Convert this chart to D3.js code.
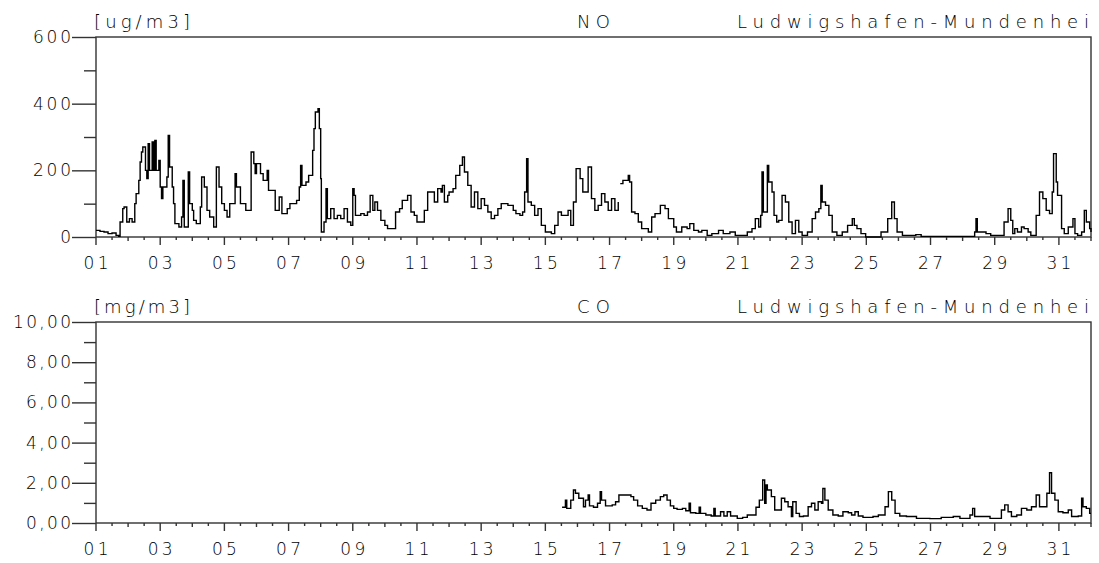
<!DOCTYPE html>
<html>
<head>
  <meta charset="utf-8">
  <title>NO / CO Ludwigshafen-Mundenheim</title>
  <script type="text/javascript" src="https://cdn.jsdelivr.net/npm/d3@7/dist/d3.min.js"></script>
  <style>
    body {
      margin: 0;
      background: #fff;
    }
    text {
      font-family: "DejaVu Sans", sans-serif;
      font-weight: 200;
      fill: #000;
    }
  </style>
</head>
<body>
  <svg id="chart"></svg>
  <script>
    // data: [hour since start of month, value]
    var noReadings = [
      [0,20],[3,17],[6,15],[9,10],[12,12],[15,5],[17,2],[18,45],[20,85],[21,90],[23,45],
      [25,55],[27,45],[29,100],[30,130],[32,170],[33,225],[34,255],[35,270],[37,200],[38,175],
      [39,280],[40,200],[42,285],[43,200],[44,290],[45,200],[47,230],[48,150],[49,115],
      [50,150],[53,180],[54,305],[55,210],[57,150],[58,100],[59,40],[62,30],[64,60],[65,170],
      [66,30],[68,30],[69,195],[70,100],[72,80],
      [73,50],[75,40],[78,90],[79,180],[81,150],[83,80],[85,60],[88,30],[90,210],[92,150],
      [94,100],[96,80],
      [98,60],[100,100],[104,190],[105,150],[108,100],[112,80],[114,80],[116,255],[118,220],
      [119,190],[120,220],
      [123,190],[125,170],[128,200],[129,140],[132,140],[134,80],[137,120],[139,70],[143,85],
      [145,100],[150,110],[152,150],[153,215],[154,155],[157,165],[159,185],[162,260],[163,325],
      [164,375],[166,385],[167,325],[168,175],
      [168.5,15],[170.5,45],[172,145],[173,55],[175.5,85],[178,55],[180.5,65],[183,55],
      [185.5,85],[188,45],[190.5,35],[192,145],
      [193,125],[194,65],[198,70],[200.5,65],[203,75],[205,125],[207,80],[208.5,105],
      [210.5,80],[213,50],[216,35],
      [218,25],[222,25],[224,75],[227,85],[229,110],[233,125],[235.5,75],[238,65],[240,45],
      [243,45],[245.5,80],[248,135],[250.5,135],[253,105],[255.5,145],[258,135],[259,155],
      [260.5,105],[263,125],[264,135],
      [267,145],[269,185],[272,215],[274,240],[275.5,195],[278,155],[280.5,90],[283,135],
      [285.5,85],[288,115],
      [290.5,95],[293,75],[295.5,55],[298,65],[300.5,85],[303,100],[308,95],[312,80],
      [314,70],[317,65],[319,75],[320.5,135],[322,235],[323,105],[325.5,95],[328,65],
      [330.5,85],[333,35],[336,15],
      [338,15],[340.5,10],[343,35],[345.5,75],[348,65],[350.5,65],[353,80],[355,35],[357,105],
      [359,205],
      [362,175],[364,135],[368,210],[370.5,115],[373,80],[375.5,95],[378,130],[380.5,105],
      [383,80],[385.5,115],[388,80],[390.5,105],[391,null],
      [392,160],[394,170],[398,185],[399,165],[400.5,75],[403,70],[405.5,45],[408,25],
      [410.5,25],[413,15],[415.5,60],[418,70],[422,95],[425.5,85],[428,55],[432,30],[434,15],
      [438,30],[442,25],[444,40],[447,20],[450.5,15],[453,20],[457,5],[460.5,10],[465.5,20],
      [469,10],[474,15],[478,5],[482,5],[487,15],[490.5,25],[493,55],[495.5,30],[497,65],
      [498,195],[499,75],[502,215],[503,165],[505.5,135],[507,65],[509,45],[510.5,50],
      [513,125],[515.5,105],[518,45],[520.5,10],[523,50],[525.5,15],[528,5],[532,15],
      [535.5,55],[538,75],[540.5,85],[542,155],[543,105],[545.5,95],[548,65],[550.5,15],
      [554,5],[558,15],[562,35],[565.5,55],[567,35],[569,25],[572,10],[575.5,0],[584,0],
      [587,15],[589,15],[592,55],[595,105],[597,55],[599,15],[603,5],[613,7],[617,2],
      [655.5,2],[657,15],[658,55],[659,15],[665.5,10],[669,5],[678,5],[679,45],[682,85],
      [684,50],[685.5,10],[687,25],[689,15],[692,30],[694,25],[697,15],[699,5],[703,65],
      [705.5,135],[708,115],[710.5,80],[713,70],[715,135],[716,250],[718,165],[719,125],
      [722,25],[724,10],[727,30],[730.5,55],[732,10],[734,5],[737,15],[739,80],[740.5,45],
      [743,25],[744,15]
    ];

    var coReadings = [
      [348.5,0.78],[351,1.14],[352,0.73],[355,1.14],[357,1.64],[358.5,1.48],[361,1.23],
      [364.5,0.81],[366,1.14],[368,1.39],[369,0.85],[372,0.78],[375,0.98],[377,1.56],
      [378,1.14],[381,0.85],[386,0.90],[388.5,1.06],[391,1.39],[396,1.39],[400,1.31],
      [402,1.14],[405,0.85],[408.5,0.73],[412,0.65],[415,0.98],[418.5,1.14],[422,1.31],
      [424.5,1.39],[427,1.14],[429.5,0.85],[432,0.73],[434.5,0.68],[438.5,0.73],[441,0.61],
      [443.5,0.98],[444.5,0.51],[448.5,0.48],[451,0.78],[452,0.48],[456,0.40],[460,0.35],
      [462,0.73],[463,0.35],[467,0.56],[469.5,0.35],[472,0.56],[474.5,0.35],[479.5,0.23],
      [483.5,0.28],[487,0.40],[491,0.40],[493.5,0.78],[496,1.14],[498.5,2.14],[500,0.98],
      [501,1.89],[502,1.64],[505,1.31],[507.5,0.65],[510,0.65],[512.5,1.23],[515,1.06],
      [517.5,0.81],[520,0.32],[521,1.06],[523.5,0.48],[526,0.32],[529,0.35],[532.5,0.81],
      [535,0.98],[537.5,0.65],[540,1.06],[542.5,0.98],[543.5,1.72],[545,1.14],[547.5,0.65],
      [551,0.40],[555,0.35],[558.5,0.56],[562.5,0.51],[565,0.40],[567.5,0.56],[570,0.35],
      [573.5,0.28],[581,0.32],[585,0.40],[590,0.81],[592.5,1.56],[595,1.14],[597.5,0.48],
      [601,0.35],[606,0.32],[613.5,0.23],[623.5,0.22],[632,0.28],[641,0.32],[646,0.23],
      [653.5,0.40],[655.5,0.73],[657,0.32],[663.5,0.32],[668.5,0.23],[676,0.23],[677,0.65],
      [679.5,0.90],[682,0.56],[684.5,0.32],[688.5,0.40],[692,0.73],[696,0.65],[699.5,0.81],
      [703,1.39],[705.5,0.81],[708,0.81],[711,1.48],[713,2.50],[714.5,1.48],[717,1.14],
      [719.5,0.56],[723,0.51],[727,0.65],[729.5,0.32],[734.5,0.35],[737,1.23],[738,0.81],
      [740.5,0.73],[743,0.48],[744,0.48]
    ];

    var dayLabels = ["01","03","05","07","09","11","13","15","17","19","21","23","25","27","29","31"];
    var noMajor = [0, 200, 400, 600];
    var noMinor = [100, 300, 500];
    var coMajor = [0, 2, 4, 6, 8, 10];
    var coMinor = [1, 3, 5, 7, 9];
    var station = "Ludwigshafen-Mundenhei";

    var width = 1099, height = 563;
    var svg = d3.select("#chart").attr("width", width).attr("height", height);

    var left = 96, right = 1091;
    var x = d3.scaleLinear().domain([0, 744]).range([left, right]);

    // label width in the plotter font: digits wide, commas narrow
    function labelLen(s) {
      var n = 0;
      for (var i = 0; i < s.length; i++) n += (s[i] == "," ? 7 : 13);
      return n;
    }

    function drawPanel(cfg) {
      var g = svg.append("g");
      var y = d3.scaleLinear().domain(cfg.domain).range([cfg.bottom, cfg.top]);

      // frame
      g.append("rect")
        .attr("x", left).attr("y", cfg.top)
        .attr("width", right - left).attr("height", cfg.bottom - cfg.top)
        .attr("fill", "none").attr("stroke", "#333").attr("stroke-width", 1.4);

      // y ticks
      var yAxis = g.append("g").attr("transform", "translate(" + left + ",0)")
        .call(d3.axisLeft(y).tickValues(cfg.major).tickSize(24).tickFormat(""));
      var yMinor = g.append("g").attr("transform", "translate(" + left + ",0)")
        .call(d3.axisLeft(y).tickValues(cfg.minor).tickSize(12).tickFormat(""));
      [yAxis, yMinor].forEach(function(a) {
        a.select(".domain").remove();
        a.selectAll("line").attr("stroke", "#333").attr("stroke-width", 1.4);
      });

      g.selectAll(".ylab").data(cfg.major).enter().append("text")
        .attr("class", "ylab")
        .attr("x", 71).attr("y", function(d) { return y(d) + 6; })
        .attr("text-anchor", "end")
        .attr("font-size", 17)
        .attr("textLength", function(d) { return labelLen(cfg.fmt(d)) - 1; })
        .attr("lengthAdjust", "spacing")
        .text(cfg.fmt);

      // x ticks every 12 hours
      var xt = d3.range(0, 745, 12);
      g.selectAll(".xt").data(xt).enter().append("line")
        .attr("x1", x).attr("x2", x)
        .attr("y1", cfg.bottom)
        .attr("y2", function(h) {
          if (h % 48 == 0) return cfg.bottom + 8;
          if (h % 24 == 0) return cfg.bottom + 4;
          return cfg.bottom + 3;
        })
        .attr("stroke", "#333").attr("stroke-width", 1.4);

      g.selectAll(".xlab").data(dayLabels).enter().append("text")
        .attr("x", function(d) { return x((+d - 1) * 24); })
        .attr("y", cfg.bottom + 32)
        .attr("text-anchor", "middle")
        .attr("font-size", 17)
        .attr("textLength", 25)
        .attr("lengthAdjust", "spacing")
        .text(function(d) { return d; });

      // headers
      var ty = cfg.top - 9;
      g.append("text").attr("x", 94).attr("y", ty).attr("font-size", 18)
        .attr("textLength", 96).attr("lengthAdjust", "spacing").text(cfg.unit);
      g.append("text").attr("x", 577).attr("y", ty).attr("font-size", 18)
        .attr("textLength", 33).attr("lengthAdjust", "spacing").text(cfg.name);
      g.append("text").attr("x", 737).attr("y", ty).attr("font-size", 18)
        .attr("textLength", 352).attr("lengthAdjust", "spacing").text(station);

      // series
      var line = d3.line()
        .defined(function(d) { return d[1] != null; })
        .x(function(d) { return x(d[0]); })
        .y(function(d) { return y(d[1]); })
        .curve(d3.curveStepAfter);

      g.append("path")
        .datum(cfg.data)
        .attr("d", line)
        .attr("fill", "none")
        .attr("stroke", "#000")
        .attr("stroke-width", 1.4);
    }

    drawPanel({
      top: 37, bottom: 237, domain: [0, 600],
      major: noMajor, minor: noMinor,
      fmt: function(d) { return String(d); },
      unit: "[ug/m3]", name: "NO", data: noReadings
    });

    drawPanel({
      top: 322, bottom: 523, domain: [0, 10],
      major: coMajor, minor: coMinor,
      fmt: function(d) { return d.toFixed(2).replace(".", ","); },
      unit: "[mg/m3]", name: "CO", data: coReadings
    });
  </script>
</body>
</html>
